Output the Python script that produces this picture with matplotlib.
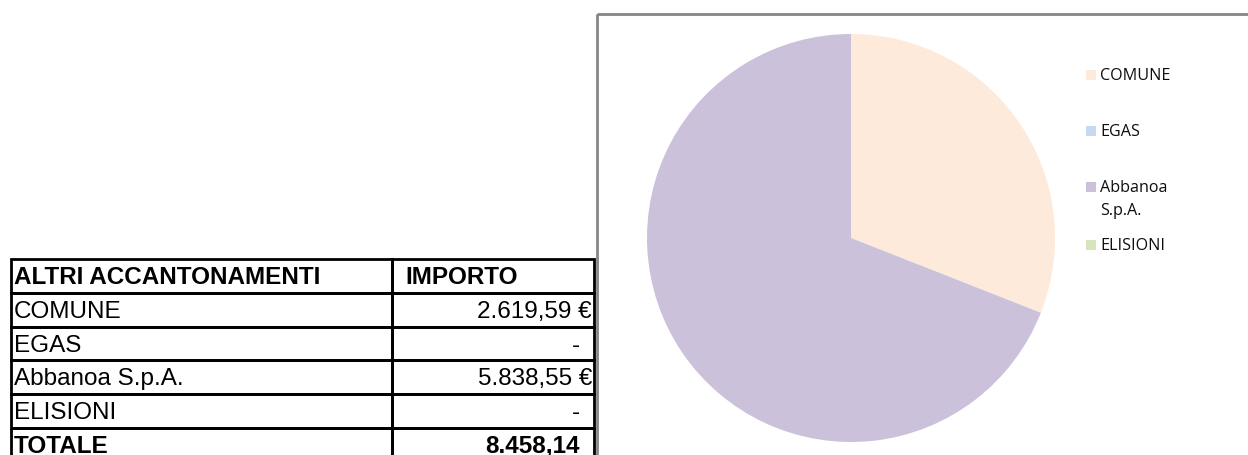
import matplotlib
matplotlib.use("Agg")
import matplotlib.pyplot as plt
from matplotlib.patches import Rectangle

# ---- data ----
categories = ["COMUNE", "EGAS", "Abbanoa S.p.A.", "ELISIONI"]
values = [2619.59, 0.0, 5838.55, 0.0]
value_labels = ["2.619,59 €", "-", "5.838,55 €", "-"]
legend_labels = ["COMUNE", "EGAS", "Abbanoa\nS.p.A.", "ELISIONI"]
header = ["ALTRI ACCANTONAMENTI", "IMPORTO"]
total_label = ["TOTALE", "8.458,14"]
colors = ["#FDEADA", "#C6D9F1", "#CCC1DA", "#D7E4BD"]

W, H = 1248, 455
fig = plt.figure(figsize=(W / 100, H / 100), dpi=100)
fig.patch.set_facecolor("white")

# full-figure pixel axes (y down)
bg = fig.add_axes([0, 0, 1, 1])
bg.set_xlim(0, W)
bg.set_ylim(H, 0)
bg.axis("off")

# chart frame
bg.add_patch(Rectangle((597, 14), 700, 500, fill=False, edgecolor="#868686", lw=2))

# ---- table ----
tx0, tx1, tx2 = 11, 392, 594
ty0, rh = 259, 33.8
rows = [header] + [[c, v] for c, v in zip(categories, value_labels)] + [total_label]
tfont = "Liberation Sans"
fs = 17.5
for i, (a, b) in enumerate(rows):
    y = ty0 + i * rh
    bold = (i == 0 or i == len(rows) - 1)
    fw = "bold" if bold else "normal"
    bg.add_patch(Rectangle((tx0, y), tx1 - tx0, rh, fill=False, edgecolor="black", lw=2))
    bg.add_patch(Rectangle((tx1, y), tx2 - tx1, rh, fill=False, edgecolor="black", lw=2))
    bg.text(tx0 + 3, y + 25, a, ha="left", va="baseline", fontsize=fs,
            family=tfont, fontweight=fw)
    if i == 0:
        bg.text(tx1 + 13, y + 25, b, ha="left", va="baseline", fontsize=fs,
                family=tfont, fontweight="bold")
    else:
        xr = tx2 - 2 if "€" in b else tx2 - 14
        bg.text(xr, y + 25, b, ha="right", va="baseline", fontsize=fs,
                family=tfont, fontweight=fw)

# ---- pie ----
cx, cy, r = 851, 238, 204
pax = fig.add_axes([(cx - r) / W, (H - cy - r) / H, 2 * r / W, 2 * r / H])
pax.pie(values, colors=colors, startangle=90, counterclock=False, radius=1,
        wedgeprops=dict(linewidth=0))
pax.set_xlim(-1, 1)
pax.set_ylim(-1, 1)
pax.set_aspect("equal")
pax.axis("off")

# ---- legend ----
leg_top = [70, 126, 182, 240]
for lbl, col, y in zip(legend_labels, colors, leg_top):
    bg.add_patch(Rectangle((1086, y), 10, 10, facecolor=col, edgecolor="none"))
    lines = lbl.split("\n")
    for k, ln in enumerate(lines):
        bg.text(1100, y + 10 + k * 23, ln, ha="left", va="baseline", fontsize=11.6,
                family="Open Sans", color="#0d0d0d")

fig.savefig("out.png", dpi=100, facecolor="white")
